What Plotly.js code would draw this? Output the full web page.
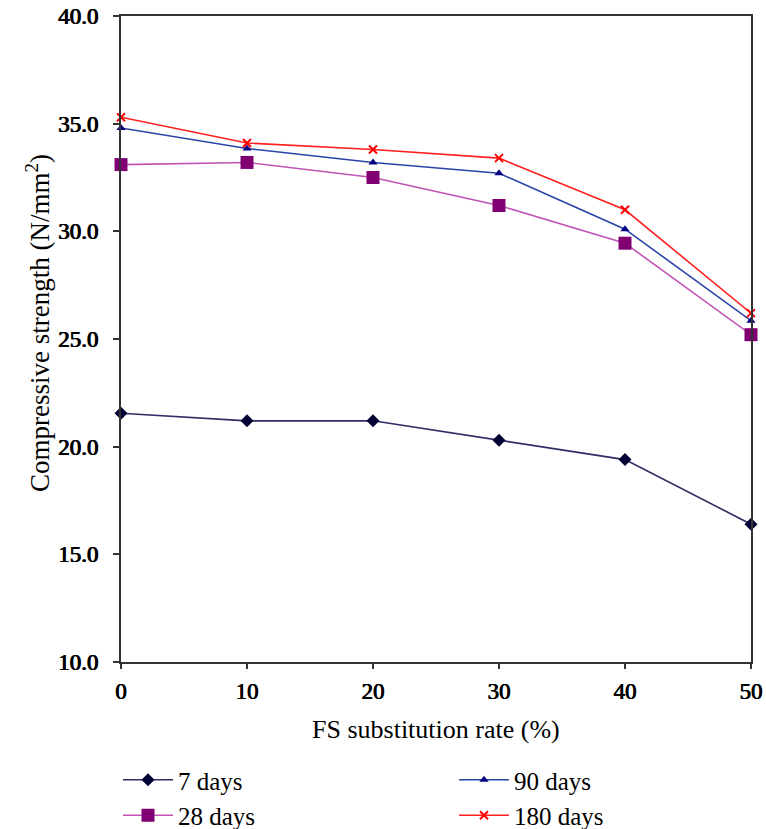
<!DOCTYPE html>
<html>
<head>
<meta charset="utf-8">
<script src="https://cdn.plot.ly/plotly-3.0.1.min.js"></script>
<style>html,body{margin:0;padding:0;background:#fff;}#chart{width:766px;height:829px;}</style>
</head>
<body>
<div id="chart"></div>
<script>
// Data
const fsRate = [0, 10, 20, 30, 40, 50];
const days7 = [21.55, 21.2, 21.2, 20.3, 19.4, 16.4];
const days28 = [33.1, 33.2, 32.5, 31.2, 29.45, 25.2];
const days90 = [34.8, 33.85, 33.2, 32.7, 30.1, 25.85];
const days180 = [35.3, 34.1, 33.8, 33.4, 31.0, 26.2];
const seriesNames = ['7 days', '28 days', '90 days', '180 days'];
const xTicks = [0, 10, 20, 30, 40, 50];
const yTicks = [10, 15, 20, 25, 30, 35, 40];

const serif = 'Liberation Serif';
const boldShadow = '0.6px 0 0 #000, -0.3px 0 0 #000';

const traces = [
  {x: fsRate, y: days7, name: seriesNames[0], mode: 'lines+markers', legend: 'legend',
   line: {color: '#2e2e66', width: 1.6},
   marker: {symbol: 'diamond', size: 10, color: '#000033'}, cliponaxis: false},
  {x: fsRate, y: days28, name: seriesNames[1], mode: 'lines+markers', legend: 'legend',
   line: {color: '#c054b4', width: 1.6},
   marker: {symbol: 'square', size: 13, color: '#800074'}, cliponaxis: false},
  {x: fsRate, y: days90, name: seriesNames[2], mode: 'lines+markers', legend: 'legend2',
   line: {color: '#2a44a8', width: 1.6},
   marker: {symbol: 'triangle-up', size: 8, color: '#000080'}, cliponaxis: false},
  {x: fsRate, y: days180, name: seriesNames[3], mode: 'lines+markers', legend: 'legend2',
   line: {color: '#ff2020', width: 1.6},
   marker: {symbol: 'x-thin', size: 8, color: '#ff0000', line: {color: '#ff0000', width: 2}}, cliponaxis: false}
];

const layout = {
  width: 766, height: 829,
  margin: {l: 121, r: 15, t: 16, b: 167, autoexpand: false},
  paper_bgcolor: '#ffffff', plot_bgcolor: '#ffffff',
  font: {family: serif, color: '#000', size: 20},
  showlegend: true,
  xaxis: {
    range: [0, 50], tickvals: xTicks, ticktext: xTicks.map(String),
    showgrid: false, zeroline: false,
    showline: true, linecolor: '#333', linewidth: 2, mirror: true,
    ticks: 'outside', ticklen: 5, tickwidth: 1.5, tickcolor: '#333',
    ticklabelstandoff: 2,
    tickfont: {family: serif, size: 23, color: '#000', shadow: boldShadow}
  },
  yaxis: {
    range: [10, 40], tickvals: yTicks, ticktext: yTicks.map(v => v.toFixed(1)),
    showgrid: false, zeroline: false,
    showline: true, linecolor: '#333', linewidth: 2, mirror: true,
    ticks: 'outside', ticklen: 6, tickwidth: 1.5, tickcolor: '#333',
    ticklabelstandoff: 10,
    tickfont: {family: serif, size: 23, color: '#000', shadow: boldShadow}
  },
  annotations: [
    {text: 'FS substitution rate (%)', xref: 'paper', yref: 'paper',
     x: 0.5, y: -(730 - 662) / 646, xanchor: 'center', yanchor: 'middle',
     showarrow: false, font: {family: serif, size: 26, color: '#000'}},
    {text: 'Compressive strength (N/mm<sup>2</sup>)', xref: 'paper', yref: 'paper',
     x: -(121 - 38) / 630, y: (662 - 323) / 646, xanchor: 'center', yanchor: 'middle',
     textangle: -90, showarrow: false, font: {family: serif, size: 27, color: '#000'}}
  ],
  legend: {
    x: (118 - 121) / 630, y: -(757 - 662) / 646, xanchor: 'left', yanchor: 'top',
    orientation: 'v', bgcolor: 'rgba(0,0,0,0)', font: {family: serif, size: 25, color: '#000'},
    itemwidth: 50, tracegroupgap: 0
  },
  legend2: {
    x: (454 - 121) / 630, y: -(757 - 662) / 646, xanchor: 'left', yanchor: 'top',
    orientation: 'v', bgcolor: 'rgba(0,0,0,0)', font: {family: serif, size: 25, color: '#000'},
    itemwidth: 50, tracegroupgap: 0
  }
};

Plotly.newPlot('chart', traces, layout, {displayModeBar: false});
</script>
</body>
</html>
